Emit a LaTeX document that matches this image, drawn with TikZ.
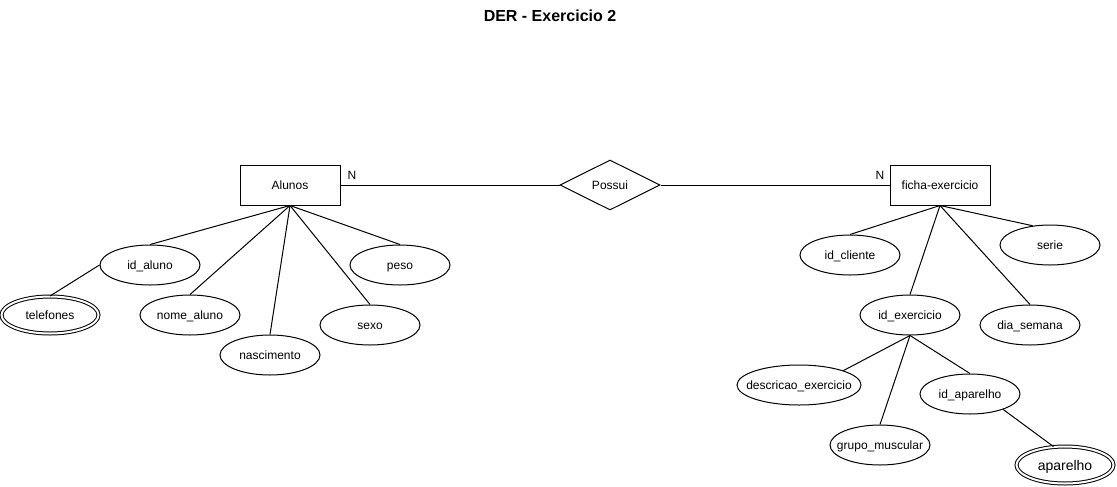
\documentclass[tikz,border=0pt]{standalone}
\usepackage{fontspec}
\setmainfont{Liberation Sans}
\usetikzlibrary{shapes.geometric}
\newcommand\ertxt[1]{\makebox[0pt]{#1}}
\begin{document}
\begin{tikzpicture}[x=0.75pt,y=-0.75pt, line width=0.75pt,
  every node/.style={font=\fontsize{9}{11}\selectfont, text=black},
  entity/.style={draw, rectangle, minimum width=75pt, minimum height=30pt, inner sep=0pt, text height=6.5pt, text depth=0pt},
  rel/.style={draw, diamond, minimum width=75pt, minimum height=37.5pt, inner sep=0pt, text height=6.5pt, text depth=0pt},
  attr/.style={draw, ellipse, minimum width=75pt, minimum height=30pt, inner sep=0pt, text height=6.5pt, text depth=0pt},
  multi/.style={attr, double, double distance=1.5pt, minimum width=72.75pt, minimum height=27.75pt},
  card/.style={inner sep=0pt},
  link/.style={draw}]
\useasboundingbox[fill=white] (0,0) rectangle (1117,486);

\node[font=\fontsize{12}{14}\selectfont\bfseries] (title) at (550,16) {DER - Exercicio 2};

\node[entity] (alunos) at (290,185) {Alunos};
\node[rel] (possui) at (610,185) {Possui};
\node[entity] (ficha) at (940,185) {ficha-exercicio};
\node[card] (n1) at (352,175) {N};
\node[card] (n2) at (880,175) {N};

\node[attr] (idaluno) at (150,265) {\ertxt{id\_aluno}};
\node[multi] (telefones) at (50,315) {\ertxt{telefones}};
\node[attr] (nome) at (190,315) {\ertxt{nome\_aluno}};
\node[attr] (nasc) at (270,355) {\ertxt{nascimento}};
\node[attr] (sexo) at (370,325) {\ertxt{sexo}};
\node[attr] (peso) at (400,265) {\ertxt{peso}};

\node[attr] (idcliente) at (850,255) {\ertxt{id\_cliente}};
\node[attr] (serie) at (1050,245) {\ertxt{serie}};
\node[attr] (idexerc) at (910,315) {\ertxt{id\_exercicio}};
\node[attr] (dia) at (1030,325) {\ertxt{dia\_semana}};
\node[attr, minimum width=93pt] (descr) at (799,385) {\ertxt{descricao\_exercicio}};
\node[attr] (grupo) at (880,445) {\ertxt{grupo\_muscular}};
\node[attr] (idapar) at (970,394) {\ertxt{id\_aparelho}};
\node[multi, font=\fontsize{10.5}{12.5}\selectfont, text height=7.6pt] (apar) at (1065,465) {\ertxt{aparelho}};

\draw[link] (alunos.east) -- (possui.west);
\draw[link] (possui.east) -- (ficha.west);

\draw[link] (alunos.south) -- (idaluno.north);
\draw[link] (idaluno.west) -- (telefones.north);
\draw[link] (alunos.south) -- (nome.north);
\draw[link] (alunos.south) -- (nasc.north);
\draw[link] (alunos.south) -- (sexo.north);
\draw[link] (alunos.south) -- (peso.north);

\draw[link] (ficha.south) -- (idcliente.north);
\draw[link] (ficha.south) -- (serie.132);
\draw[link] (ficha.south) -- (idexerc.north);
\draw[link] (ficha.south) -- (dia.north);

\draw[link] (idexerc.south) -- (descr.18);
\draw[link] (idexerc.south) -- (grupo.north);
\draw[link] (idexerc.south) -- (idapar.north);
\draw[link] (idapar.-25) -- (apar.122);
\end{tikzpicture}
\end{document}
